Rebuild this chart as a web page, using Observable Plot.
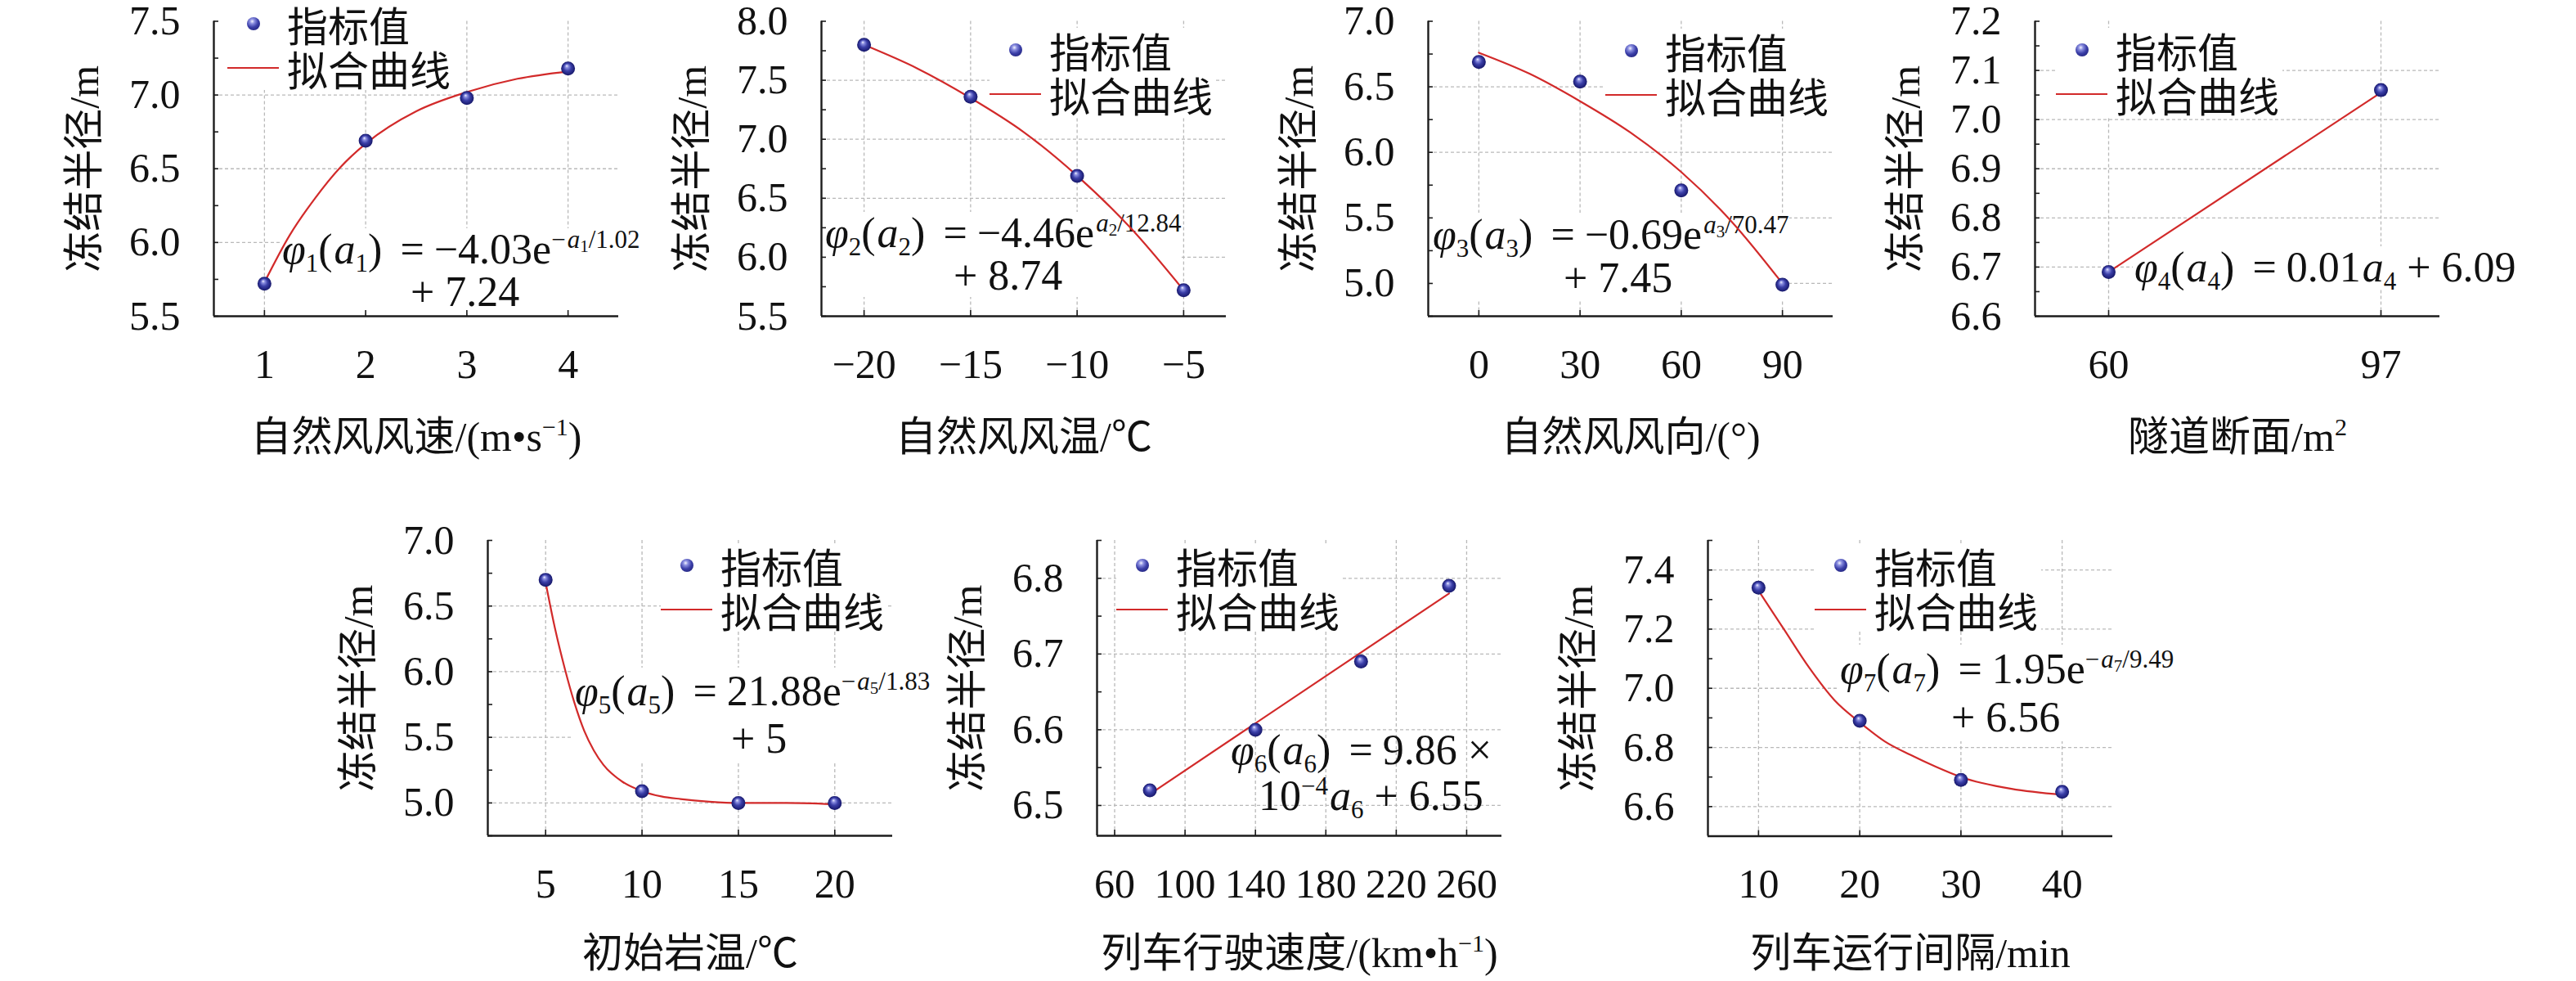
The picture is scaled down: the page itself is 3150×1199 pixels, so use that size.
<!DOCTYPE html>
<html lang="zh">
<head>
<meta charset="utf-8">
<script src="https://cdn.jsdelivr.net/npm/d3@7"></script>
<script src="https://cdn.jsdelivr.net/npm/@observablehq/plot@0.6"></script>
<style>
html, body { margin: 0; padding: 0; background: #fff; }
#chart { position: relative; width: 3150px; height: 1199px; overflow: hidden; background: #fff; }
.legend { position: absolute; z-index: 2; background: #fff; padding-right: 4px; }
.lrow { display: flex; align-items: center; height: 54px; }
.sym { width: 63px; margin-right: 10px; display: flex; align-items: center; justify-content: center; }
.ball { width: 16px; height: 16px; border-radius: 50%; background: radial-gradient(circle at 40% 32%, #f2f3ff 0%, #8a8ee0 20%, #3b3fa8 50%, #16176a 100%); }
.lline { width: 63px; height: 2.4px; background: #d22a2a; }
.lt { font-family: "Noto Sans CJK SC", sans-serif; font-size: 50px; line-height: 54px; color: #111; }
.formula { position: absolute; z-index: 2; font-family: "Liberation Serif", serif; font-size: 52px; color: #111; white-space: nowrap; }
.formula.bg { background: #fff; }
.formula .ln { display: block; }
.formula i { padding-left: 2px; }
.formula sub { font-size: 31px; vertical-align: -10px; line-height: 0; }
.formula sup { font-size: 31px; vertical-align: 19px; line-height: 0; }
.formula sup sub { font-size: 21px; vertical-align: -5px; }
.formula .eq { margin: 0 12px 0 22px; }
</style>
</head>
<body>
<div id="chart"></div>
<script>
// ---------------- data ----------------
const yTitle = "冻结半径/m";
const legendLabels = ["指标值", "拟合曲线"];

// panel 1 : 自然风风速
const p1X = [1, 2, 3, 4];
const p1Y = [5.72, 6.69, 6.98, 7.18];
const p1FitX = [1, 1.25, 1.5, 1.75, 2, 2.5, 3, 3.5, 4];
const p1FitY = [5.73, 6.05, 6.30, 6.51, 6.67, 6.89, 7.02, 7.11, 7.16];
const p1XTicks = [1, 2, 3, 4];
const p1YTicks = [5.5, 6.0, 6.5, 7.0, 7.5];
const p1YMinor = [5.75, 6.25, 6.75, 7.25];
const p1XTitle = "自然风风速/(m•s⁻¹)";
const p1Formula = ['<i>φ</i><sub>1</sub>(<i>a</i><sub>1</sub>)<span class="eq">=</span>−4.03e<sup>−<i>a</i><sub>1</sub>/1.02</sup>', '+ 7.24'];

// panel 2 : 自然风风温
const p2X = [-20, -15, -10, -5];
const p2Y = [7.80, 7.36, 6.69, 5.72];
const p2FitX = [-20, -17.5, -15, -12.5, -10, -7.5, -5];
const p2FitY = [7.80, 7.60, 7.35, 7.06, 6.69, 6.25, 5.72];
const p2XTicks = [-20, -15, -10, -5];
const p2YTicks = [5.5, 6.0, 6.5, 7.0, 7.5, 8.0];
const p2YMinor = [5.75, 6.25, 6.75, 7.25, 7.75];
const p2XTitle = "自然风风温/℃";
const p2Formula = ['<i>φ</i><sub>2</sub>(<i>a</i><sub>2</sub>)<span class="eq">=</span>−4.46e<sup><i>a</i><sub>2</sub>/12.84</sup>', '+ 8.74'];

// panel 3 : 自然风风向
const p3X = [0, 30, 60, 90];
const p3Y = [6.69, 6.54, 5.71, 4.99];
const p3FitX = [0, 15, 30, 45, 60, 75, 90];
const p3FitY = [6.76, 6.60, 6.39, 6.15, 5.85, 5.47, 5.00];
const p3XTicks = [0, 30, 60, 90];
const p3YTicks = [5.0, 5.5, 6.0, 6.5, 7.0];
const p3YMinor = [4.75, 5.25, 5.75, 6.25, 6.75];
const p3XTitle = "自然风风向/(°)";
const p3Formula = ['<i>φ</i><sub>3</sub>(<i>a</i><sub>3</sub>)<span class="eq">=</span>−0.69e<sup><i>a</i><sub>3</sub>/70.47</sup>', '+ 7.45'];

// panel 4 : 隧道断面
const p4X = [60, 97];
const p4Y = [6.69, 7.06];
const p4FitX = [60, 97];
const p4FitY = [6.69, 7.055];
const p4XTicks = [60, 97];
const p4YTicks = [6.6, 6.7, 6.8, 6.9, 7.0, 7.1, 7.2];
const p4YMinor = [6.65, 6.75, 6.85, 6.95, 7.05, 7.15];
const p4XTitle = "隧道断面/m²";
const p4Formula = ['<i>φ</i><sub>4</sub>(<i>a</i><sub>4</sub>)<span class="eq">=</span>0.01<i>a</i><sub>4</sub> + 6.09'];

// panel 5 : 初始岩温
const p5X = [5, 10, 15, 20];
const p5Y = [6.70, 5.09, 5.00, 5.00];
const p5FitX = [5, 5.5, 6, 6.5, 7, 7.5, 8, 9, 10, 11, 12, 13.5, 15, 17.5, 20];
const p5FitY = [6.68, 6.32, 6.02, 5.76, 5.55, 5.40, 5.29, 5.16, 5.09, 5.05, 5.03, 5.01, 5.00, 5.00, 4.99];
const p5XTicks = [5, 10, 15, 20];
const p5YTicks = [5.0, 5.5, 6.0, 6.5, 7.0];
const p5YMinor = [4.75, 5.25, 5.75, 6.25, 6.75];
const p5XTitle = "初始岩温/℃";
const p5Formula = ['<i>φ</i><sub>5</sub>(<i>a</i><sub>5</sub>)<span class="eq">=</span>21.88e<sup>−<i>a</i><sub>5</sub>/1.83</sup>', '+ 5'];

// panel 6 : 列车行驶速度
const p6X = [80, 140, 200, 250];
const p6Y = [6.52, 6.60, 6.69, 6.79];
const p6FitX = [80, 250];
const p6FitY = [6.515, 6.78];
const p6XTicks = [60, 100, 140, 180, 220, 260];
const p6YTicks = [6.5, 6.6, 6.7, 6.8];
const p6YMinor = [6.55, 6.65, 6.75, 6.85];
const p6XTitle = "列车行驶速度/(km•h⁻¹)";
const p6Formula = ['<i>φ</i><sub>6</sub>(<i>a</i><sub>6</sub>)<span class="eq">=</span>9.86 ×', '10<sup>−4</sup><i>a</i><sub>6</sub> + 6.55'];

// panel 7 : 列车运行间隔
const p7X = [10, 20, 30, 40];
const p7Y = [7.34, 6.89, 6.69, 6.65];
const p7FitX = [10, 12.5, 15, 17.5, 20, 22.5, 25, 27.5, 30, 35, 40];
const p7FitY = [7.33, 7.20, 7.07, 6.96, 6.885, 6.82, 6.775, 6.735, 6.70, 6.66, 6.64];
const p7XTicks = [10, 20, 30, 40];
const p7YTicks = [6.6, 6.8, 7.0, 7.2, 7.4];
const p7YMinor = [6.5, 6.7, 6.9, 7.1, 7.3, 7.5];
const p7XTitle = "列车运行间隔/min";
const p7Formula = ['<i>φ</i><sub>7</sub>(<i>a</i><sub>7</sub>)<span class="eq">=</span>1.95e<sup>−<i>a</i><sub>7</sub>/9.49</sup>', '+ 6.56'];

// ---------------- layout / style ----------------
const FONT = "'Liberation Serif', 'Noto Sans CJK SC', serif";
const RED = "#d22a2a";
const GRID = "#b9b9b9";
const AXIS = "#1c1c1c";
const PW = 495, ML = 240, MR = 110, MB = 175;

const panels = [
  {x: p1X, y: p1Y, fitX: p1FitX, fitY: p1FitY, xTicks: p1XTicks, yTicks: p1YTicks, yMinor: p1YMinor, xTitle: p1XTitle, formula: p1Formula,
   row: 0, ax: 261, top: 25.5, ph: 360.5, xDomain: [0.5, 4.5], yDomain: [5.5, 7.5], leg: [278, 29], f: {x: 343, y: 305, lh: 52, indent: 159, bg: true}},
  {x: p2X, y: p2Y, fitX: p2FitX, fitY: p2FitY, xTicks: p2XTicks, yTicks: p2YTicks, yMinor: p2YMinor, xTitle: p2XTitle, formula: p2Formula,
   row: 0, ax: 1003.5, top: 25.5, ph: 360.5, xDomain: [-22, -3], yDomain: [5.5, 8.0], leg: [1210, 61], f: {x: 1007, y: 285, lh: 52, indent: 159, bg: true}},
  {x: p3X, y: p3Y, fitX: p3FitX, fitY: p3FitY, xTicks: p3XTicks, yTicks: p3YTicks, yMinor: p3YMinor, xTitle: p3XTitle, formula: p3Formula,
   row: 0, ax: 1746, top: 25.5, ph: 360.5, xDomain: [-15, 105], yDomain: [4.75, 7.0], leg: [1963, 62], f: {x: 1750, y: 286.5, lh: 53.5, indent: 162, bg: true}},
  {x: p4X, y: p4Y, fitX: p4FitX, fitY: p4FitY, xTicks: p4XTicks, yTicks: p4YTicks, yMinor: p4YMinor, xTitle: p4XTitle, formula: p4Formula,
   row: 0, ax: 2488, top: 25.5, ph: 360.5, xDomain: [50, 105], yDomain: [6.6, 7.2], leg: [2514, 61], f: {x: 2608, y: 327, lh: 52, indent: 0, bg: true}},
  {x: p5X, y: p5Y, fitX: p5FitX, fitY: p5FitY, xTicks: p5XTicks, yTicks: p5YTicks, yMinor: p5YMinor, xTitle: p5XTitle, formula: p5Formula,
   row: 1, ax: 596, top: 660, ph: 361, xDomain: [2, 23], yDomain: [4.75, 7.0], leg: [808, 691], f: {x: 701, y: 845, lh: 58, indent: 193, bg: true}},
  {x: p6X, y: p6Y, fitX: p6FitX, fitY: p6FitY, xTicks: p6XTicks, yTicks: p6YTicks, yMinor: p6YMinor, xTitle: p6XTitle, formula: p6Formula,
   row: 1, ax: 1341, top: 660, ph: 361, xDomain: [50, 280], yDomain: [6.46, 6.85], leg: [1365, 691], f: {x: 1503, y: 917, lh: 56, indent: 36, bg: false}},
  {x: p7X, y: p7Y, fitX: p7FitX, fitY: p7FitY, xTicks: p7XTicks, yTicks: p7YTicks, yMinor: p7YMinor, xTitle: p7XTitle, formula: p7Formula,
   row: 1, ax: 2088, top: 659.5, ph: 361.5, xDomain: [5, 45], yDomain: [6.5, 7.5], leg: [2219, 691], f: {x: 2248, y: 817, lh: 59, indent: 138, bg: true}}
];

const chart = document.getElementById("chart");
const fmtY = d3.format(".1f");
const fmtX = d3.format("d");
const supMap = {"⁻": "−", "¹": "1", "²": "2"};

function place(el, left, top, z) {
  el.style.position = "absolute";
  el.style.left = left + "px";
  el.style.top = top + "px";
  el.style.zIndex = z;
  el.style.maxWidth = "none";
  chart.appendChild(el);
}

panels.forEach((p, i) => {
  const mT = p.row === 0 ? p.top : 40;
  const svgTop = p.top - mT;
  const W = ML + PW + MR, H = mT + p.ph + MB;
  const base = {
    width: W, height: H,
    marginLeft: ML, marginRight: MR, marginTop: mT, marginBottom: MB,
    x: {type: "linear", domain: p.xDomain, axis: null},
    y: {type: "linear", domain: p.yDomain, axis: null},
    style: {background: "transparent", fontFamily: FONT, fontSize: "50px", color: "#111", overflow: "visible"}
  };
  const yGrid = p.yTicks.filter(t => t > p.yDomain[0] + 1e-9 && t < p.yDomain[1] - 1e-9);

  // background layer: dashed grid
  const grid = Plot.plot({...base, marks: [
    Plot.ruleX(p.xTicks, {x: d => d, stroke: GRID, strokeWidth: 1.3, strokeDasharray: "4,3"}),
    Plot.ruleY(yGrid, {y: d => d, stroke: GRID, strokeWidth: 1.3, strokeDasharray: "4,3"})
  ]});
  place(grid, p.ax - ML, svgTop, 1);

  // foreground layer: axes, fitted curve, points
  const pts = p.x.map((x, k) => ({x, y: p.y[k]}));
  const fit = p.fitX.map((x, k) => ({x, y: p.fitY[k]}));
  const allY = [...p.yTicks, ...p.yMinor];
  const main = Plot.plot({...base, marks: [
    Plot.tickY(allY, {y: d => d, insetRight: PW - 6, stroke: AXIS, strokeWidth: 1.6}),
    Plot.tickX(p.xTicks, {x: d => d, insetTop: p.ph - 7, stroke: AXIS, strokeWidth: 1.6}),
    Plot.ruleX([p.xDomain[0]], {stroke: AXIS, strokeWidth: 2.4}),
    Plot.ruleY([p.yDomain[0]], {stroke: AXIS, strokeWidth: 2.4}),
    Plot.text(p.yTicks, {y: d => d, text: d => fmtY(d), frameAnchor: "left", dx: -41, textAnchor: "end", lineAnchor: "middle"}),
    Plot.text(p.xTicks, {x: d => d, text: d => fmtX(d), frameAnchor: "bottom", dy: 59, textAnchor: "middle", lineAnchor: "middle"}),
    Plot.text([yTitle], {text: d => d, frameAnchor: "left", dx: -158, rotate: -90, textAnchor: "middle", lineAnchor: "middle"}),
    Plot.text([p.xTitle], {text: d => d, frameAnchor: "bottom", dy: p.row === 0 ? 148 : 144, textAnchor: "middle", lineAnchor: "middle"}),
    Plot.line(fit, {x: "x", y: "y", stroke: RED, strokeWidth: 2.2, curve: "monotone-x"}),
    Plot.dot(pts, {x: "x", y: "y", r: 8.5, fill: `url(#ball${i})`})
  ]});
  d3.select(main).insert("defs", ":first-child").html(
    `<radialGradient id="ball${i}" cx="0.5" cy="0.5" r="0.5" fx="0.4" fy="0.3">` +
    `<stop offset="0" stop-color="#f2f3ff"/><stop offset="0.22" stop-color="#8a8ee0"/>` +
    `<stop offset="0.55" stop-color="#3b3fa8"/><stop offset="1" stop-color="#16176a"/></radialGradient>`);
  // superscripts in axis titles
  main.querySelectorAll("text").forEach(t => {
    const s = t.textContent;
    const m = s.match(/[⁻¹²]+/);
    if (m) {
      const pre = s.slice(0, m.index), post = s.slice(m.index + m[0].length);
      const sup = [...m[0]].map(c => supMap[c]).join("");
      t.innerHTML = `${pre}<tspan font-size="30" dy="-19">${sup}</tspan><tspan dy="19">${post}</tspan>`;
    }
  });
  place(main, p.ax - ML, svgTop, 3);

  // legend (white box)
  const lg = document.createElement("div");
  lg.className = "legend";
  lg.innerHTML =
    `<div class="lrow"><span class="sym"><span class="ball"></span></span><span class="lt">${legendLabels[0]}</span></div>` +
    `<div class="lrow"><span class="sym"><span class="lline"></span></span><span class="lt">${legendLabels[1]}</span></div>`;
  lg.style.left = p.leg[0] + "px";
  lg.style.top = (p.leg[1] - 27) + "px";
  chart.appendChild(lg);

  // fitted formula annotation
  const fm = document.createElement("div");
  fm.className = "formula" + (p.f.bg ? " bg" : "");
  fm.innerHTML = p.formula.map((ln, k) =>
    `<div class="ln" style="height:${p.f.lh}px;line-height:${p.f.lh}px;padding-left:${k ? p.f.indent : 0}px">${ln}</div>`).join("");
  fm.style.left = p.f.x + "px";
  fm.style.top = (p.f.y - p.f.lh / 2) + "px";
  chart.appendChild(fm);
});
</script>
</body>
</html>
